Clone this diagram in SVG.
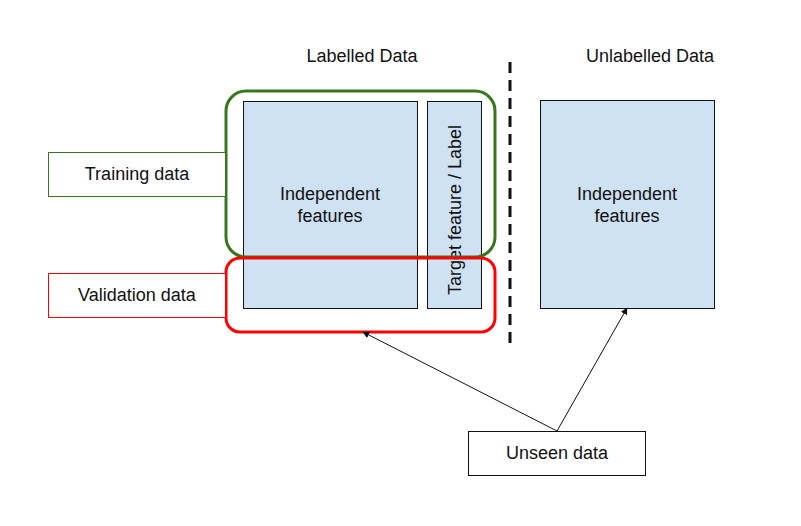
<svg xmlns="http://www.w3.org/2000/svg" width="801" height="526" viewBox="0 0 801 526">
<style>
text{font-family:"Liberation Sans",Arial,sans-serif;font-size:18px;fill:#111}
.blue{fill:#cfe2f3;stroke:#111;stroke-width:1}
.lbl{fill:#fff;stroke-width:1}
.conn{stroke:#111;stroke-width:1;fill:none;marker-end:url(#ah)}
</style>
<defs>
<marker id="ah" viewBox="0 0 10 10" refX="9" refY="5" markerWidth="7" markerHeight="7" orient="auto" markerUnits="userSpaceOnUse">
<path d="M0,0 L10,5 L0,10 z" fill="#111"/>
</marker>
</defs>
<rect width="801" height="526" fill="#fff"/>
<g id="title-labelled"><text x="362" y="62" text-anchor="middle">Labelled Data</text></g>
<g id="title-unlabelled"><text x="650" y="62" text-anchor="middle">Unlabelled Data</text></g>
<g id="independent-labelled">
<rect class="blue" x="243.5" y="101.5" width="174" height="207"/>
<text x="330" y="200" text-anchor="middle">Independent</text>
<text x="330" y="222" text-anchor="middle">features</text>
</g>
<g id="target">
<rect class="blue" x="427.5" y="101.5" width="54" height="207"/>
<text transform="translate(461,210) rotate(-90)" text-anchor="middle">Target feature / Label</text>
</g>
<g id="independent-unlabelled">
<rect class="blue" x="540.5" y="100.5" width="174" height="208"/>
<text x="627" y="200" text-anchor="middle">Independent</text>
<text x="627" y="222" text-anchor="middle">features</text>
</g>
<g id="training-group"><rect x="226" y="91" width="269" height="166" rx="20" fill="none" stroke="#38761d" stroke-width="3"/></g>
<g id="validation-group"><rect x="226" y="258" width="269" height="74" rx="14" fill="none" stroke="#ff0000" stroke-width="3"/></g>
<g id="training-data">
<rect class="lbl" x="48.5" y="152.5" width="177" height="44" stroke="#38761d"/>
<text x="137" y="180" text-anchor="middle">Training data</text>
</g>
<g id="validation-data">
<rect class="lbl" x="48.5" y="273.5" width="177" height="44" stroke="#ff0000"/>
<text x="137" y="301" text-anchor="middle">Validation data</text>
</g>
<g id="divider"><line x1="510" y1="62" x2="510" y2="346" stroke="#111" stroke-width="3" stroke-dasharray="11,7"/></g>
<g id="unseen-data">
<rect x="468.5" y="431.5" width="177" height="44" fill="#fff" stroke="#111" stroke-width="1"/>
<text x="557" y="459" text-anchor="middle">Unseen data</text>
</g>
<g id="connectors">
<line class="conn" x1="557" y1="431" x2="363" y2="332"/>
<line class="conn" x1="557" y1="431" x2="627" y2="308"/>
</g>
</svg>
